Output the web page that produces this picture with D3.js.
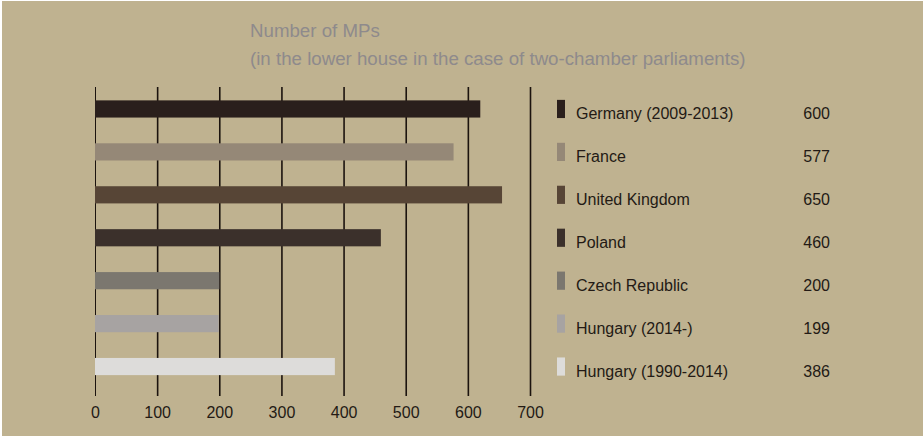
<!DOCTYPE html>
<html>
<head>
<meta charset="utf-8">
<script src="https://cdn.jsdelivr.net/npm/d3@7"></script>
<style>
  body { margin: 0; background: #fff; }
  svg { display: block; font-family: "Liberation Sans", Arial, sans-serif; }
</style>
</head>
<body>
<div id="chart"></div>
<script>
// data
const countries = ["Germany (2009-2013)", "France", "United Kingdom", "Poland",
  "Czech Republic", "Hungary (2014-)", "Hungary (1990-2014)"];
const barValues = [620, 577, 655, 460, 200, 199, 386]; // bar lengths as drawn
const labelValues = ["600", "577", "650", "460", "200", "199", "386"]; // printed numbers
const barColors = ["#2a1f1c", "#958877", "#574536", "#3b302b", "#7b776f", "#a7a3a2", "#dddcda"];
const xTicks = [0, 100, 200, 300, 400, 500, 600, 700];
const titleLines = ["Number of MPs",
  "(in the lower house in the case of two-chamber parliaments)"];

const width = 923, height = 438;
const margin = { top: 87, left: 95, right: 530, bottom: 396 };

const svg = d3.select("#chart").append("svg")
  .attr("width", width)
  .attr("height", height);

svg.append("rect")
  .attr("x", 2).attr("y", 1)
  .attr("width", width - 2).attr("height", height - 3)
  .attr("fill", "#bfb290");

const x = d3.scaleLinear()
  .domain([0, 700])
  .range([margin.left, margin.right]);

const y = d3.scaleBand()
  .domain(countries)
  .range([87.5, 388])
  .paddingInner(0.6)
  .paddingOuter(0.3);

// title
svg.append("g")
  .selectAll("text")
  .data(titleLines)
  .join("text")
  .attr("x", 250)
  .attr("y", (d, i) => 37 + i * 28)
  .attr("fill", "#8e8a8c")
  .style("font-size", "18.7px")
  .text(d => d);

// grid lines (axis with long ticks)
const gx = svg.append("g")
  .attr("transform", `translate(0,${margin.bottom})`)
  .call(d3.axisBottom(x).tickValues(xTicks)
    .tickSize(-(margin.bottom - margin.top))
    .tickPadding(11))
  .call(g => g.select(".domain").remove());

gx.selectAll(".tick line")
  .attr("stroke", "#1b130e")
  .attr("stroke-width", (d) => d === 0 ? 1 : 1.6);

gx.selectAll(".tick text")
  .attr("fill", "#231a15")
  .style("font-size", "16px")
  .style("font-family", "'Liberation Sans', Arial, sans-serif");

// bars
svg.append("g")
  .selectAll("rect")
  .data(countries)
  .join("rect")
  .attr("x", x(0))
  .attr("y", d => y(d))
  .attr("width", (d, i) => x(barValues[i]) - x(0))
  .attr("height", y.bandwidth())
  .attr("fill", (d, i) => barColors[i]);

// legend
const legend = svg.append("g")
  .selectAll("g")
  .data(countries)
  .join("g")
  .attr("transform", d => `translate(0,${y(d)})`);

legend.append("rect")
  .attr("x", 557)
  .attr("y", -0.5)
  .attr("width", 8)
  .attr("height", y.bandwidth() + 1)
  .attr("fill", (d, i) => barColors[i]);

legend.append("text")
  .attr("x", 576)
  .attr("y", y.bandwidth() / 2 + 10)
  .attr("fill", "#231a15")
  .style("font-size", "16px")
  .text(d => d);

legend.append("text")
  .attr("x", 830)
  .attr("y", y.bandwidth() / 2 + 10)
  .attr("text-anchor", "end")
  .attr("fill", "#231a15")
  .style("font-size", "16px")
  .text((d, i) => labelValues[i]);
</script>
</body>
</html>
